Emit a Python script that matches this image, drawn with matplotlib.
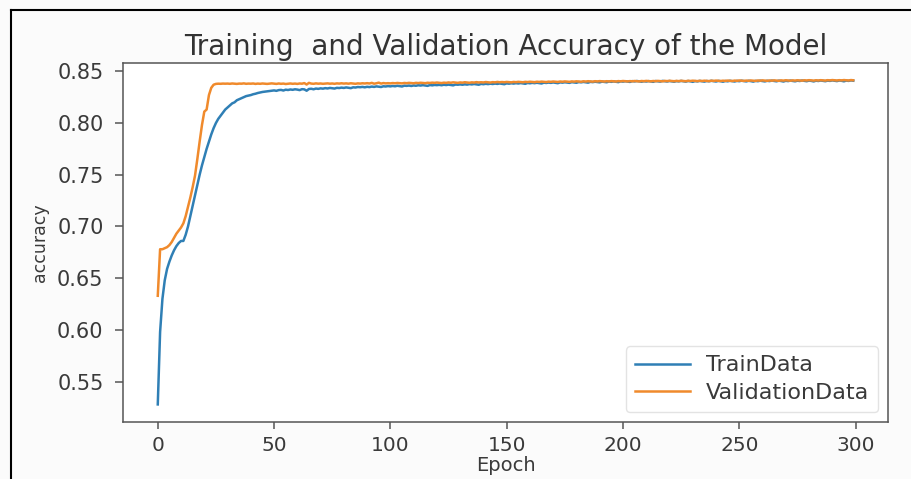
import matplotlib
matplotlib.use("Agg")
import matplotlib.pyplot as plt
from matplotlib.lines import Line2D

title = "Training  and Validation Accuracy of the Model"
x_label = "Epoch"
y_label = "accuracy"
series_names = ["TrainData", "ValidationData"]
x_ticks = [0, 50, 100, 150, 200, 250, 300]
y_ticks = [0.55, 0.60, 0.65, 0.70, 0.75, 0.80, 0.85]

train_acc = [
    0.528, 0.598, 0.630, 0.648, 0.659, 0.666, 0.672, 0.677, 0.681, 0.684,
    0.686, 0.686, 0.692, 0.700, 0.710, 0.720, 0.730, 0.740, 0.750, 0.759,
    0.767, 0.775, 0.782, 0.789, 0.795, 0.800, 0.804, 0.807, 0.810, 0.813,
    0.815, 0.817, 0.819, 0.820, 0.822, 0.823, 0.824, 0.825, 0.826, 0.8265,
    0.827, 0.8278, 0.8283, 0.829, 0.8295, 0.830, 0.8303, 0.8307, 0.831, 0.8312,
    0.8315, 0.8311, 0.8318, 0.8320, 0.8314, 0.8322, 0.8319, 0.8324, 0.8321, 0.8326,
    0.8323, 0.8318, 0.8327, 0.8325, 0.8312, 0.8329, 0.8331, 0.8326, 0.8333, 0.8330,
    0.8335, 0.8332, 0.8337, 0.8334, 0.8339, 0.8336, 0.8333, 0.8340, 0.8338, 0.8342,
    0.8339, 0.8344, 0.8341, 0.8337, 0.8345, 0.8343, 0.8348, 0.8346, 0.8349, 0.8345,
    0.8350, 0.8347, 0.8352, 0.8349, 0.8354, 0.8351, 0.8348, 0.8355, 0.8353, 0.8357,
    0.8354, 0.8358, 0.8355, 0.8360, 0.8357, 0.8353, 0.8361, 0.8359, 0.8362, 0.8358,
    0.8363, 0.8360, 0.8365, 0.8362, 0.8366, 0.8363, 0.8359, 0.8367, 0.8364, 0.8368,
    0.8366, 0.8369, 0.8365, 0.8370, 0.8367, 0.8371, 0.8368, 0.8364, 0.8372, 0.8370,
    0.8373, 0.8370, 0.8374, 0.8371, 0.8376, 0.8373, 0.8377, 0.8374, 0.8370, 0.8378,
    0.8375, 0.8379, 0.8376, 0.8380, 0.8377, 0.8381, 0.8378, 0.8382, 0.8379, 0.8375,
    0.8383, 0.8380, 0.8384, 0.8381, 0.8385, 0.8382, 0.8386, 0.8383, 0.8379, 0.8387,
    0.8384, 0.8388, 0.8385, 0.8389, 0.8386, 0.8382, 0.8390, 0.8387, 0.8391, 0.8388,
    0.8392, 0.8389, 0.8385, 0.8393, 0.8390, 0.8394, 0.8391, 0.8388, 0.8395, 0.8392,
    0.8389, 0.8396, 0.8393, 0.8397, 0.8394, 0.8390, 0.8398, 0.8395, 0.8399, 0.8396,
    0.8393, 0.8400, 0.8397, 0.8394, 0.8401, 0.8398, 0.8402, 0.8399, 0.8395, 0.8403,
    0.8400, 0.8404, 0.8401, 0.8397, 0.8405, 0.8402, 0.8406, 0.8403, 0.8399, 0.8404,
    0.8401, 0.8405, 0.8402, 0.8398, 0.8406, 0.8403, 0.8400, 0.8407, 0.8404, 0.8401,
    0.8406, 0.8403, 0.8399, 0.8405, 0.8402, 0.8407, 0.8404, 0.8400, 0.8406, 0.8403,
    0.8398, 0.8405, 0.8402, 0.8407, 0.8404, 0.8400, 0.8406, 0.8403, 0.8408, 0.8405,
    0.8401, 0.8407, 0.8404, 0.8399, 0.8406, 0.8403, 0.8408, 0.8405, 0.8401, 0.8407,
    0.8404, 0.8409, 0.8406, 0.8402, 0.8408, 0.8405, 0.8400, 0.8407, 0.8404, 0.8409,
    0.8406, 0.8402, 0.8408, 0.8405, 0.8410, 0.8407, 0.8403, 0.8409, 0.8406, 0.8401,
    0.8408, 0.8405, 0.8410, 0.8407, 0.8403, 0.8409, 0.8406, 0.8411, 0.8408, 0.8404,
    0.8410, 0.8407, 0.8402, 0.8409, 0.8406, 0.8411, 0.8408, 0.8404, 0.8410, 0.8407,
    0.8412, 0.8409, 0.8405, 0.8411, 0.8408, 0.8403, 0.8410, 0.8407, 0.8412, 0.8409,
]

val_acc = [
    0.633, 0.678, 0.678, 0.679, 0.680, 0.682, 0.685, 0.689, 0.693, 0.696,
    0.699, 0.703, 0.710, 0.719, 0.728, 0.738, 0.749, 0.765, 0.782, 0.798,
    0.811, 0.813, 0.827, 0.834, 0.837, 0.8378, 0.8380, 0.8379, 0.8381, 0.8380,
    0.8381, 0.8379, 0.8382, 0.8380, 0.8378, 0.8381, 0.8380, 0.8383, 0.8379, 0.8381,
    0.8380, 0.8382, 0.8378, 0.8381, 0.8379, 0.8382, 0.8380, 0.8378, 0.8381, 0.8383,
    0.8380, 0.8378, 0.8382, 0.8379, 0.8381, 0.8377, 0.8380, 0.8382, 0.8379, 0.8381,
    0.8378, 0.8382, 0.8380, 0.8386, 0.8372, 0.8388, 0.8381, 0.8379, 0.8383, 0.8380,
    0.8382, 0.8379, 0.8381, 0.8383, 0.8380, 0.8382, 0.8379, 0.8383, 0.8381, 0.8384,
    0.8381, 0.8383, 0.8380, 0.8384, 0.8382, 0.8379, 0.8383, 0.8381, 0.8384, 0.8382,
    0.8385, 0.8382, 0.8388, 0.8380, 0.8384, 0.8390, 0.8381, 0.8386, 0.8383, 0.8385,
    0.8383, 0.8386, 0.8384, 0.8387, 0.8385, 0.8383, 0.8387, 0.8385, 0.8388, 0.8386,
    0.8384, 0.8388, 0.8386, 0.8389, 0.8387, 0.8385, 0.8389, 0.8387, 0.8390, 0.8388,
    0.8391, 0.8388, 0.8386, 0.8390, 0.8388, 0.8392, 0.8389, 0.8393, 0.8390, 0.8388,
    0.8392, 0.8390, 0.8394, 0.8391, 0.8389, 0.8393, 0.8391, 0.8395, 0.8392, 0.8394,
    0.8392, 0.8396, 0.8393, 0.8391, 0.8395, 0.8393, 0.8397, 0.8394, 0.8396, 0.8394,
    0.8397, 0.8395, 0.8393, 0.8397, 0.8395, 0.8398, 0.8396, 0.8394, 0.8398, 0.8396,
    0.8399, 0.8397, 0.8395, 0.8399, 0.8397, 0.8400, 0.8398, 0.8396, 0.8400, 0.8398,
    0.8401, 0.8399, 0.8397, 0.8401, 0.8399, 0.8402, 0.8400, 0.8398, 0.8402, 0.8400,
    0.8403, 0.8401, 0.8399, 0.8403, 0.8401, 0.8404, 0.8402, 0.8400, 0.8404, 0.8402,
    0.8405, 0.8403, 0.8401, 0.8404, 0.8402, 0.8405, 0.8403, 0.8401, 0.8405, 0.8403,
    0.8406, 0.8404, 0.8402, 0.8405, 0.8403, 0.8406, 0.8404, 0.8402, 0.8406, 0.8404,
    0.8407, 0.8405, 0.8403, 0.8406, 0.8404, 0.8407, 0.8405, 0.8403, 0.8407, 0.8405,
    0.8408, 0.8406, 0.8404, 0.8407, 0.8405, 0.8408, 0.8406, 0.8404, 0.8408, 0.8406,
    0.8409, 0.8407, 0.8405, 0.8408, 0.8406, 0.8409, 0.8407, 0.8405, 0.8409, 0.8407,
    0.8410, 0.8408, 0.8406, 0.8409, 0.8407, 0.8410, 0.8408, 0.8406, 0.8410, 0.8408,
    0.8411, 0.8409, 0.8407, 0.8410, 0.8408, 0.8411, 0.8409, 0.8407, 0.8411, 0.8409,
    0.8412, 0.8410, 0.8408, 0.8411, 0.8409, 0.8412, 0.8410, 0.8408, 0.8412, 0.8410,
    0.8413, 0.8411, 0.8409, 0.8412, 0.8410, 0.8413, 0.8411, 0.8409, 0.8413, 0.8411,
    0.8414, 0.8412, 0.8410, 0.8413, 0.8411, 0.8414, 0.8412, 0.8410, 0.8414, 0.8412,
    0.8415, 0.8413, 0.8411, 0.8414, 0.8412, 0.8415, 0.8413, 0.8411, 0.8415, 0.8413,
]

epochs = list(range(len(train_acc)))

plt.rcParams['font.family'] = ['DejaVu Sans']
text_color = '#3a3a3a'
spine_color = '#555555'

fig = plt.figure(figsize=(9.11, 4.79), dpi=100, facecolor='#fbfbfb')
ax = fig.add_axes([123 / 911, 1 - 422 / 479, (888 - 123) / 911, (422 - 63) / 479])
ax.set_facecolor('white')

ax.plot(epochs, train_acc, color='#2f7fb5', lw=1.8, label=series_names[0])
ax.plot(epochs, val_acc, color='#f08a2c', lw=1.8, label=series_names[1])

ax.set_xticks(x_ticks)
ax.set_yticks(y_ticks)
ax.set_yticklabels([f"{v:.2f}" for v in y_ticks])
ax.set_ylim(0.511, 0.858)

for s in ax.spines.values():
    s.set_color(spine_color)
    s.set_linewidth(1.1)

ax.tick_params(axis='y', labelsize=15, colors=spine_color, labelcolor=text_color,
               length=6, width=1.1, pad=8)
ax.tick_params(axis='x', labelsize=14.5, colors=spine_color, labelcolor=text_color,
               length=5, width=1.1, pad=5)

ax.set_title(title, fontsize=20, color='#333333', pad=6)
ax.set_xlabel(x_label, fontsize=14, color=text_color, labelpad=1)
ax.set_ylabel(y_label, fontsize=12.5, color=text_color, labelpad=6)

leg = ax.legend(loc='lower right', fontsize=16, handlelength=2.5, handletextpad=0.7,
                frameon=True, borderaxespad=0.45, labelspacing=0.35, labelcolor=text_color)
leg.get_frame().set_edgecolor('#dddddd')

# screenshot frame lines (left and top)
fig.add_artist(Line2D([11 / 911, 11 / 911], [0, 1 - 10 / 479], color='black', lw=1.5,
                      transform=fig.transFigure))
fig.add_artist(Line2D([11 / 911, 1], [1 - 10 / 479, 1 - 10 / 479], color='black', lw=1.5,
                      transform=fig.transFigure))

fig.savefig('out.png', dpi=100, facecolor=fig.get_facecolor())
